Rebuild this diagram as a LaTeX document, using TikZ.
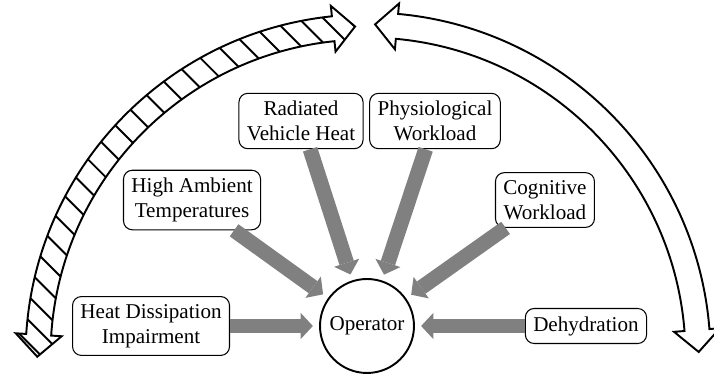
\documentclass[tikz,border=0pt]{standalone}
\usepackage{fontspec}
\setmainfont{Liberation Serif}
\usetikzlibrary{positioning,arrows.meta}

\tikzset{
  factor/.style={draw, rounded corners=5pt, align=center, inner sep=4.5pt, line width=0.6pt},
  operator/.style={draw, circle, minimum size=1.88cm, inner sep=0pt, line width=1.1pt},
  influence/.style={draw=gray, line width=8.5pt, -{Triangle[length=7pt,width=15pt,line width=0pt]}, shorten >=3.5pt},
  ring/.style={line width=1.1pt, line join=miter},
}

% outline of a bent arrow with a head at both ends
\newcommand\setring[3]{%
  \pgfmathsetmacro\rc{#1}%
  \pgfmathsetmacro\ro{#1+12.5}%
  \pgfmathsetmacro\ri{#1-12.5}%
  \pgfmathsetmacro\hp{#1+23}%
  \pgfmathsetmacro\hm{#1-23}%
  \def\ts{#2}\def\te{#3}%
  \pgfmathsetmacro\sx{#1*cos(#2)-22*sin(#2)}%
  \pgfmathsetmacro\sy{#1*sin(#2)+22*cos(#2)}%
  \pgfmathsetmacro\ex{#1*cos(#3)+22*sin(#3)}%
  \pgfmathsetmacro\ey{#1*sin(#3)-22*cos(#3)}%
}
\newcommand\ringpath{(\ts:\ro) arc[start angle=\ts, end angle=\te, radius=\ro]
  -- (\te:\hp) -- (\ex,\ey) -- (\te:\hm) -- (\te:\ri)
  arc[start angle=\te, end angle=\ts, radius=\ri]
  -- (\ts:\hm) -- (\sx,\sy) -- (\ts:\hp) -- cycle}

\begin{document}
\begin{tikzpicture}[x=0.02cm, y=0.02cm, on grid, font=\fontsize{12}{14}\selectfont]
  \useasboundingbox (0,0) rectangle (714,381);

  \node[operator] (op) at (367,55) {Operator};
  \node[factor] (rvh) [above left=4.1cm and 1.32cm of op] {Radiated\\Vehicle Heat};
  \node[factor] (phw) [above right=4.1cm and 1.36cm of op] {Physiological\\Workload};
  \node[factor] (hat) [above left=2.52cm and 3.5cm of op] {High Ambient\\Temperatures};
  \node[factor] (cgw) [above right=2.52cm and 3.56cm of op] {Cognitive\\Workload};
  \node[factor] (hdi) [left=4.32cm of op] {Heat Dissipation\\Impairment};
  \node[factor] (dhy) [right=4.38cm of op] {Dehydration};

  \draw[influence] (rvh) -- (op);
  \draw[influence] (phw) -- (op);
  \draw[influence] (hat) -- (op);
  \draw[influence] (cgw) -- (op);
  \draw[influence] (hdi) -- (op);
  \draw[influence] (dhy) -- (op);

  % the two bent arrows round the top
  \begin{scope}[shift={(367,25)}]
    \setring{329}{176.3}{95.9}
    \begin{scope}
      \clip \ringpath;
      \foreach \a in {92,95.8,...,181}
        \draw[line width=1.1pt] (\a:\rc) ++(135:30) -- ++(-45:60);
    \end{scope}
    \draw[ring] \ringpath;
    \setring{331}{84.8}{4.5}
    \draw[ring] \ringpath;
  \end{scope}
\end{tikzpicture}
\end{document}
